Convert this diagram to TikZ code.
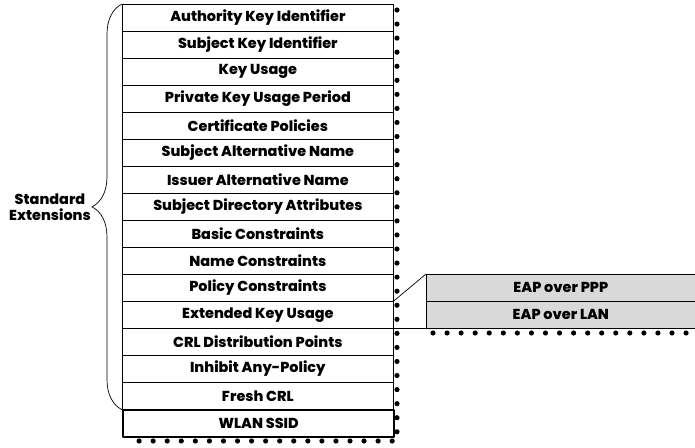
\documentclass[tikz,border=0pt]{standalone}
\usepackage{fontspec}
\setmainfont{Poppins}[BoldFont={Poppins ExtraBold}]
\usetikzlibrary{positioning,decorations.pathreplacing}
\tikzset{
  extrow/.style={draw, line width=0.6pt, minimum width=8.13cm, minimum height=0.81cm,
    inner sep=0pt, anchor=north west},
  ssidrow/.style={extrow, line width=2pt},
  eapbox/.style={draw, line width=0.6pt, fill=gray!30, minimum width=8.07cm,
    minimum height=0.81cm, inner sep=0pt, anchor=north west},
  shadowdots/.style={line width=4.4pt, line cap=round, dash pattern=on 0pt off 12pt},
}
\begin{document}
\begin{tikzpicture}[x=0.03cm, y=-0.03cm, font=\fontsize{12.3}{14}\selectfont\bfseries, line join=round]
\useasboundingbox (0,0) rectangle (695,448);
% shadows first
\draw[shadowdots] (397,10) -- (397,441) -- (128,441);
\draw[shadowdots] (433,333) -- (695,333);
% the extension rows
\foreach \i/\t in {1/Authority Key Identifier,2/Subject Key Identifier,3/Key Usage,
  4/Private Key Usage Period,5/Certificate Policies,6/Subject Alternative Name,
  7/Issuer Alternative Name,8/Subject Directory Attributes,9/Basic Constraints,
  10/Name Constraints,11/Policy Constraints,12/Extended Key Usage,
  13/CRL Distribution Points,14/Inhibit Any-Policy,15/Fresh CRL}
  \node[extrow, fill=white] (r\i) at (122,{4+27*(\i-1)}) {\t};
\node[ssidrow, fill=white] (r16) at (122,409) {WLAN SSID};
% brace and its label
\draw[line width=0.6pt, decorate, decoration={brace, amplitude=0.9cm}] (r15.south west) -- (r1.north west);
\node[align=center] (stdext) at (50,207) {Standard\\Extensions};
% zoomed usage
\node[eapbox] (eap1) at (426,274) {EAP over PPP};
\node[eapbox] (eap2) at (426,301) {EAP over LAN};
\draw[line width=0.6pt] (r12.north east) -- (eap1.north west);
\draw[line width=0.6pt] (r12.south east) -- (eap2.south west);
\end{tikzpicture}
\end{document}
